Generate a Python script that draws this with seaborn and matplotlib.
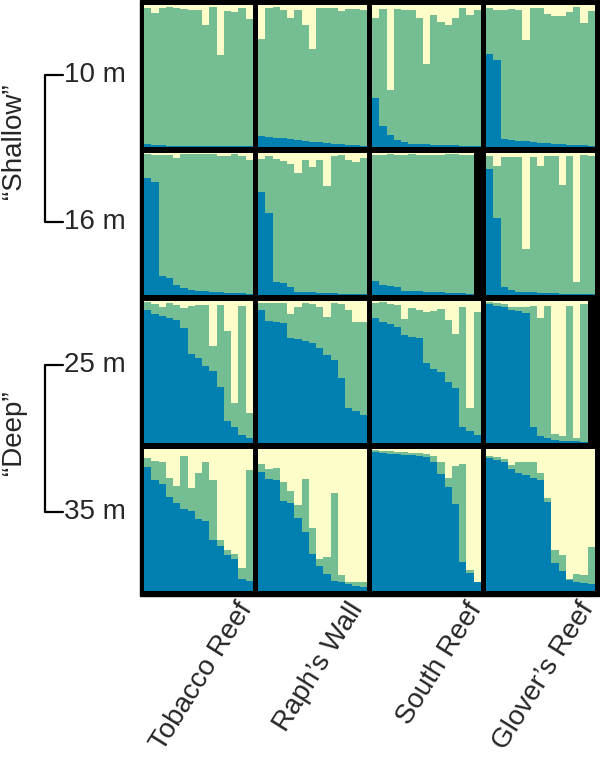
import numpy as np
import pandas as pd
import seaborn as sns
import matplotlib
matplotlib.use("Agg")
import matplotlib.pyplot as plt
from matplotlib.patches import Rectangle
from matplotlib.lines import Line2D

# ancestry proportions per individual (blue cluster and yellow cluster, green = rest)
sites = ["Tobacco Reef", "Raph\u2019s Wall", "South Reef", "Glover\u2019s Reef"]
depths = ["10 m", "16 m", "25 m", "35 m"]

blue_10m = [
    [0.02, 0.015, 0.012, 0.01, 0.008, 0.008, 0.007, 0.006, 0.006, 0.005, 0.005, 0.005, 0.005, 0.004, 0.004],
    [0.077, 0.072, 0.065, 0.06, 0.055, 0.048, 0.042, 0.037, 0.032, 0.026, 0.022, 0.018, 0.014, 0.011, 0.008],
    [0.345, 0.146, 0.087, 0.047, 0.035, 0.023, 0.02, 0.018, 0.016, 0.015, 0.013, 0.012, 0.01, 0.009, 0.008],
    [0.653, 0.61, 0.059, 0.05, 0.045, 0.04, 0.035, 0.03, 0.026, 0.022, 0.02, 0.017, 0.015, 0.012, 0.01],
]
yellow_10m = [
    [0.02, 0.056, 0.02, 0.014, 0.02, 0.026, 0.033, 0.038, 0.143, 0.014, 0.354, 0.045, 0.05, 0.02, 0.096],
    [0.237, 0.019, 0.014, 0.033, 0.09, 0.033, 0.143, 0.31, 0.019, 0.019, 0.019, 0.042, 0.026, 0.026, 0.038],
    [0.089, 0.026, 0.6, 0.026, 0.033, 0.038, 0.089, 0.413, 0.073, 0.12, 0.143, 0.089, 0.019, 0.073, 0.033],
    [0.019, 0.033, 0.033, 0.026, 0.033, 0.244, 0.019, 0.019, 0.066, 0.08, 0.08, 0.05, 0.014, 0.127, 0.042],
]
blue_16m = [
    [0.827, 0.796, 0.133, 0.12, 0.07, 0.047, 0.035, 0.03, 0.025, 0.022, 0.02, 0.017, 0.015, 0.012, 0.01],
    [0.726, 0.574, 0.094, 0.087, 0.059, 0.023, 0.02, 0.018, 0.015, 0.013, 0.012, 0.01, 0.01, 0.008, 0.008],
    [0.1, 0.07, 0.063, 0.056, 0.03, 0.028, 0.025, 0.022, 0.02, 0.018, 0.015, 0.013, 0.012, 0.01],
    [0.89, 0.539, 0.059, 0.035, 0.023, 0.02, 0.018, 0.016, 0.014, 0.012, 0.01, 0.01, 0.008, 0.008, 0.007],
]
yellow_16m = [
    [0.01, 0.016, 0.016, 0.016, 0.033, 0.01, 0.01, 0.01, 0.01, 0.01, 0.023, 0.023, 0.01, 0.023, 0.052],
    [0.04, 0.023, 0.04, 0.056, 0.075, 0.14, 0.052, 0.098, 0.052, 0.234, 0.023, 0.016, 0.047, 0.063, 0.033],
    [0.012, 0.012, 0.01, 0.012, 0.012, 0.01, 0.015, 0.015, 0.012, 0.012, 0.01, 0.01, 0.012, 0.015],
    [0.023, 0.094, 0.028, 0.028, 0.028, 0.679, 0.028, 0.094, 0.023, 0.023, 0.227, 0.023, 0.906, 0.016, 0.023],
]
blue_25m = [
    [0.937, 0.906, 0.897, 0.883, 0.867, 0.813, 0.628, 0.597, 0.539, 0.508, 0.391, 0.152, 0.11, 0.059, 0.035],
    [0.937, 0.86, 0.85, 0.843, 0.738, 0.733, 0.719, 0.703, 0.667, 0.621, 0.585, 0.461, 0.25, 0.222, 0.2],
    [0.878, 0.85, 0.836, 0.82, 0.761, 0.749, 0.742, 0.562, 0.522, 0.499, 0.429, 0.386, 0.11, 0.087, 0.054],
    [0.977, 0.967, 0.96, 0.937, 0.93, 0.913, 0.11, 0.047, 0.035, 0.023, 0.016, 0.012, 0.012, 0.007],
]
yellow_25m = [
    [0.01, 0.023, 0.04, 0.016, 0.028, 0.052, 0.033, 0.028, 0.028, 0.314, 0.028, 0.211, 0.719, 0.033, 0.789],
    [0.016, 0.016, 0.016, 0.016, 0.094, 0.04, 0.016, 0.023, 0.04, 0.11, 0.016, 0.023, 0.063, 0.145, 0.145],
    [0.016, 0.01, 0.023, 0.028, 0.126, 0.047, 0.063, 0.075, 0.07, 0.056, 0.133, 0.234, 0.04, 0.754, 0.08],
    [0.01, 0.016, 0.023, 0.04, 0.04, 0.04, 0.033, 0.117, 0.033, 0.937, 0.953, 0.033, 0.965, 0.023],
]
blue_35m = [
    [0.874, 0.781, 0.751, 0.665, 0.623, 0.577, 0.565, 0.51, 0.495, 0.356, 0.314, 0.256, 0.223, 0.088, 0.07],
    [0.837, 0.791, 0.781, 0.635, 0.619, 0.512, 0.414, 0.263, 0.177, 0.123, 0.07, 0.06, 0.047, 0.037, 0.03],
    [0.977, 0.972, 0.967, 0.967, 0.96, 0.96, 0.953, 0.944, 0.907, 0.821, 0.735, 0.612, 0.205, 0.13, 0.06],
    [0.937, 0.926, 0.907, 0.856, 0.833, 0.814, 0.798, 0.781, 0.628, 0.2, 0.14, 0.077, 0.065, 0.053, 0.047],
]
yellow_35m = [
    [0.063, 0.086, 0.093, 0.202, 0.26, 0.047, 0.272, 0.167, 0.093, 0.219, 0.644, 0.714, 0.737, 0.837, 0.149],
    [0.109, 0.14, 0.133, 0.233, 0.295, 0.395, 0.209, 0.558, 0.772, 0.76, 0.307, 0.884, 0.935, 0.935, 0.94],
    [0.009, 0.016, 0.016, 0.023, 0.023, 0.028, 0.028, 0.033, 0.051, 0.093, 0.202, 0.121, 0.109, 0.853, 0.935],
    [0.047, 0.056, 0.07, 0.116, 0.093, 0.093, 0.093, 0.172, 0.342, 0.714, 0.744, 0.916, 0.877, 0.888, 0.691],
]

blue_rows = [blue_10m, blue_16m, blue_25m, blue_35m]
yellow_rows = [yellow_10m, yellow_16m, yellow_25m, yellow_35m]

c_blue = "#007fb1"
c_green = "#75be94"
c_yellow = "#fdfdc9"

sns.set_style("white")
plt.rcParams["font.family"] = ["Liberation Sans", "DejaVu Sans"]

W, H = 600, 759
fig = plt.figure(figsize=(W / 100, H / 100), dpi=100)


def box(left, top, w, h):
    return [left / W, 1 - (top + h) / H, w / W, h / H]


# black frame behind the grid
fig.add_artist(Rectangle((140 / W, 1 - 596 / H), 459 / W, 596 / H,
                         transform=fig.transFigure, color="black", zorder=-1))

col_left = [144, 258, 372, 486]
row_top = [5, 153, 301, 449]
pw, ph = 109, 142
n_slots = 15

for r in range(4):
    for c in range(4):
        ax = fig.add_axes(box(col_left[c], row_top[r], pw, ph))
        blue = np.array(blue_rows[r][c])
        yellow = np.array(yellow_rows[r][c])
        df = pd.DataFrame({
            "ind": np.arange(len(blue)),
            "top": np.ones(len(blue)),
            "green_top": 1 - yellow,
            "blue": blue,
        })
        for col, colr in [("top", c_yellow), ("green_top", c_green), ("blue", c_blue)]:
            sns.barplot(data=df, x="ind", y=col, color=colr, width=1, saturation=1,
                        errorbar=None, linewidth=0, ax=ax)
        ax.set_xlim(-0.5, n_slots - 0.5)
        ax.set_ylim(0, 1)
        ax.set_facecolor("black")
        ax.set_xticks([])
        ax.set_yticks([])
        ax.set_xlabel("")
        ax.set_ylabel("")
        for s in ax.spines.values():
            s.set_visible(False)

# depth labels and brackets
fs = 20
label_y = [75, 222, 365, 512]
for d, y in zip(depths, label_y):
    fig.text(64 / W, 1 - y / H, d, ha="left", va="center", fontsize=fs)
for y0, y1 in [(75, 222), (365, 512)]:
    fig.add_artist(Line2D([63 / W, 45 / W, 45 / W, 63 / W],
                          [1 - y0 / H, 1 - y0 / H, 1 - y1 / H, 1 - y1 / H],
                          transform=fig.transFigure, color="black", lw=1.6))
fig.text(14 / W, 1 - 141 / H, "\u201cShallow\u201d", rotation=90, ha="center", va="center", fontsize=fs)
fig.text(14 / W, 1 - 433 / H, "\u201cDeep\u201d", rotation=90, ha="center", va="center", fontsize=fs)

# site labels
label_x = [236, 347, 465, 577]
for s, x in zip(sites, label_x):
    fig.text(x / W, 1 - 598 / H, s, rotation=58, rotation_mode="anchor",
             ha="right", va="top", fontsize=fs)

fig.savefig("out.png", dpi=100)
